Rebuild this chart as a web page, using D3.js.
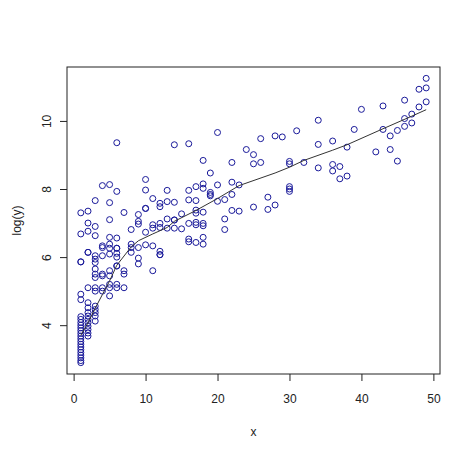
<!DOCTYPE html>
<html>
<head>
<meta charset="utf-8">
<script src="https://cdn.jsdelivr.net/npm/d3@7"></script>
<style>
  body { margin: 0; background: #fff; }
  text { font-family: "Liberation Sans", Arial, sans-serif; }
</style>
</head>
<body>
<script>
const xVals = [1, 2, 3, 4, 5, 6, 7, 8, 9, 10, 11, 12, 13, 14, 15, 16, 17, 18, 19, 20,
  21, 22, 23, 24, 25, 26, 27, 28, 29, 30, 31, 32, 34, 36, 37, 38, 39, 40, 42, 43,
  44, 45, 46, 47, 48, 49];
const logYVals = [
  [7.3, 6.68, 5.86, 5.86, 4.91, 4.75, 4.25, 4.17, 4.08, 4.0, 3.92, 3.84, 3.76, 3.68, 3.6, 3.52, 3.44, 3.36, 3.28, 3.2, 3.12, 3.04, 2.96, 2.9],
  [7.35, 7.0, 6.76, 6.14, 6.14, 5.1, 4.66, 4.51, 4.37, 4.27, 4.17, 4.07, 3.97, 3.87, 3.77, 3.68],
  [7.66, 6.9, 6.63, 6.04, 5.94, 5.84, 5.65, 5.5, 5.4, 5.1, 5.0, 4.56, 4.46, 4.37, 4.27, 4.12],
  [8.1, 6.33, 6.28, 6.04, 5.5, 5.45, 5.1, 5.0],
  [8.13, 7.6, 7.1, 6.58, 6.38, 6.26, 6.09, 5.6, 5.45, 5.2, 5.1, 4.86],
  [9.36, 7.93, 6.56, 6.26, 6.26, 6.11, 6.0, 5.74, 5.74, 5.2, 5.1],
  [7.31, 5.6, 5.5, 5.1],
  [6.81, 6.38, 6.28, 6.14],
  [7.25, 7.05, 6.97, 6.28, 5.97, 5.8],
  [8.28, 7.97, 7.43, 7.43, 6.73, 6.36],
  [7.72, 6.95, 6.85, 6.33, 5.6],
  [7.58, 7.48, 6.99, 6.87, 6.17, 6.07, 6.07],
  [7.96, 7.63, 7.12, 6.85],
  [9.3, 7.61, 7.09, 7.09, 6.85],
  [7.27, 6.83],
  [9.33, 7.96, 7.68, 6.99, 6.53, 6.45],
  [8.07, 7.66, 7.38, 7.29, 7.02, 6.95, 6.43],
  [8.84, 8.15, 8.02, 7.32, 6.99, 6.92, 6.58, 6.38],
  [8.47, 7.9, 7.84, 7.8],
  [9.66, 8.12, 7.64],
  [7.69, 7.12, 6.81],
  [8.78, 8.2, 7.84, 7.37],
  [8.12, 7.35],
  [9.16],
  [9.01, 8.74, 7.47],
  [9.48, 8.78],
  [7.76, 7.4],
  [9.56, 7.53],
  [9.53],
  [8.81, 8.74, 8.07, 8.0, 7.93],
  [9.71],
  [8.78],
  [10.02, 9.31, 8.62],
  [9.41, 8.72, 8.53],
  [8.66, 8.3],
  [9.23, 8.38],
  [9.75],
  [10.34],
  [9.09],
  [10.44, 9.75],
  [9.56, 9.16],
  [9.72, 8.82],
  [10.61, 10.07, 9.84],
  [10.2, 9.94],
  [10.93, 10.41],
  [11.25, 10.97, 10.56]
];

// fitted curve
const fitX = [1, 2, 3, 4, 5, 6, 8, 9, 11, 13, 14, 17, 20, 23, 28, 30, 32, 36, 38, 43, 47, 49];
const fitY = [3.7, 4.07, 4.5, 4.9, 5.3, 5.76, 6.3, 6.48, 6.68, 6.87, 7.05, 7.37, 7.72, 8.1, 8.47, 8.64, 8.84, 9.14, 9.3, 9.77, 10.14, 10.33];

const xTicks = [0, 10, 20, 30, 40, 50];
const yTicks = [4, 6, 8, 10];

const width = 474, height = 457;
const m = { left: 67, right: 440, top: 67, bottom: 374 };

const points = [];
xVals.forEach((x, i) => logYVals[i].forEach(v => points.push([x, v])));

// R style 4% padding
const xr = d3.extent(points, d => d[0]), yr = d3.extent(points, d => d[1]);
const xPad = (xr[1] - xr[0]) * 0.04, yPad = (yr[1] - yr[0]) * 0.04;
const x = d3.scaleLinear().domain([xr[0] - xPad, xr[1] + xPad]).range([m.left, m.right]);
const y = d3.scaleLinear().domain([yr[0] - yPad, yr[1] + yPad]).range([m.bottom, m.top]);

const svg = d3.select("body").append("svg").attr("width", width).attr("height", height);

svg.append("g")
    .selectAll("circle")
    .data(points)
    .enter()
    .append("circle")
    .attr("cx", d => x(d[0]))
    .attr("cy", d => y(d[1]))
    .attr("r", 3)
    .attr("fill", "none")
    .attr("stroke", "#1a1a9a")
    .attr("stroke-width", 1);

const line = d3.line().x(d => x(d[0])).y(d => y(d[1]));
svg.append("path")
    .datum(fitX.map((v, i) => [v, fitY[i]]))
    .attr("d", line)
    .attr("fill", "none")
    .attr("stroke", "#333")
    .attr("stroke-width", 1);

// box
svg.append("rect")
    .attr("x", m.left).attr("y", m.top)
    .attr("width", m.right - m.left).attr("height", m.bottom - m.top)
    .attr("fill", "none").attr("stroke", "#222").attr("stroke-width", 1);

const xAxis = svg.append("g")
    .attr("transform", `translate(0,${m.bottom})`)
    .call(d3.axisBottom(x).tickValues(xTicks).tickSize(7).tickPadding(13));
const yAxis = svg.append("g")
    .attr("transform", `translate(${m.left},0)`)
    .call(d3.axisLeft(y).tickValues(yTicks).tickSize(7));

[xAxis, yAxis].forEach(a => {
    a.select(".domain").remove();
    a.selectAll("line").attr("stroke", "#222");
    a.selectAll("text").attr("font-size", 12).attr("fill", "#222")
        .style("font-family", '"Liberation Sans", Arial, sans-serif');
});

// R draws the y labels parallel to the axis
yAxis.selectAll("text")
    .attr("text-anchor", "middle")
    .attr("transform", "rotate(-90)")
    .attr("x", 0)
    .attr("y", -16)
    .attr("dy", 0);

svg.append("text")
    .attr("x", (m.left + m.right) / 2).attr("y", 436)
    .attr("text-anchor", "middle").attr("font-size", 12).attr("fill", "#222")
    .text("x");

svg.append("text")
    .attr("transform", `translate(21,${(m.top + m.bottom) / 2}) rotate(-90)`)
    .attr("text-anchor", "middle").attr("font-size", 12).attr("fill", "#222")
    .text("log(y)");
</script>
</body>
</html>
